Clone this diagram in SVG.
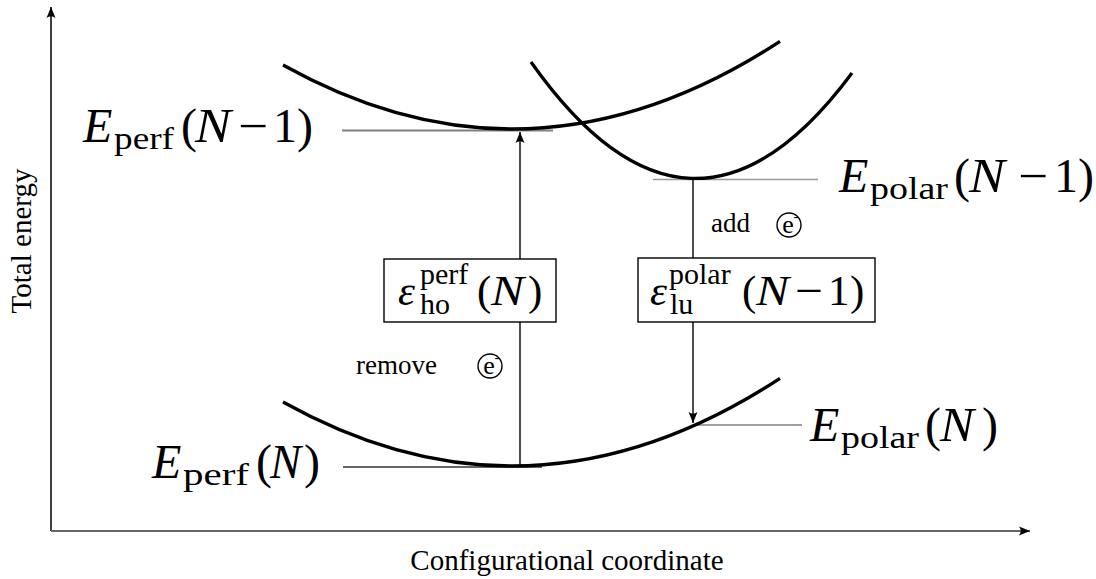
<svg xmlns="http://www.w3.org/2000/svg" width="1096" height="579" viewBox="0 0 1096 579">
<style>
text{font-family:'Liberation Serif','Times New Roman',Times,'DejaVu Serif',serif;fill:#000}
.m{font-size:48px}
.i{font-style:italic}
.s{font-size:32px}
.b{font-size:43px}
.bs{font-size:30px}
.t{font-size:27px}
.ax{font-size:29px}
.curve{fill:none;stroke:#000;stroke-width:3.3}
.conn{fill:none;stroke:#000;stroke-width:1.4}
.box{fill:#fff;stroke:#000;stroke-width:1.4}
.ec{fill:none;stroke:#000;stroke-width:1.4}
</style>
<defs>
<marker id="arr" viewBox="-12 -6 13 12" refX="0" refY="0" markerWidth="13" markerHeight="12" markerUnits="userSpaceOnUse" orient="auto">
<path d="M0,0 L-11,-4.5 Q-7.5,0 -11,4.5 Z" fill="#000"/>
</marker>
</defs>

<g id="axes">
<line x1="51" y1="531" x2="51" y2="7" stroke="#000" stroke-width="1.5" marker-end="url(#arr)"/>
<line x1="51" y1="531" x2="1030" y2="531" stroke="#666" stroke-width="2" marker-end="url(#arr)"/>
<text class="ax" transform="translate(31,241) rotate(-90)" text-anchor="middle">Total energy</text>
<text class="ax" x="567" y="570" text-anchor="middle">Configurational coordinate</text>
</g>

<g id="levels">
<line x1="342" y1="130.5" x2="553" y2="130.5" stroke="#808080" stroke-width="2"/>
<line x1="653" y1="179.5" x2="818" y2="179.5" stroke="#999" stroke-width="1.3"/>
<line x1="343" y1="467" x2="542" y2="467" stroke="#333" stroke-width="1.3"/>
<line x1="695" y1="425" x2="802" y2="425" stroke="#808080" stroke-width="1.5"/>
</g>

<g id="curves">
<path class="curve" d="M283,65 Q531.5,203.9 780,41.4"/>
<path class="curve" d="M531,62 Q691.5,289.3 852,73"/>
<path class="curve" d="M283,402 Q531.5,540.9 780,378.4"/>
</g>

<g id="connectors">
<line class="conn" x1="520" y1="466" x2="520" y2="132" marker-end="url(#arr)"/>
<line class="conn" x1="693" y1="180" x2="693" y2="423" marker-end="url(#arr)"/>
</g>

<g id="label-perf-n-1">
<text class="m"><tspan class="i" x="83" y="142">E</tspan><tspan class="s" x="114" y="149" textLength="60" lengthAdjust="spacingAndGlyphs">perf</tspan><tspan x="181" y="142">(</tspan><tspan class="i" x="195" y="142" textLength="36" lengthAdjust="spacingAndGlyphs">N</tspan><tspan x="238" y="142" textLength="30" lengthAdjust="spacingAndGlyphs">−</tspan><tspan x="273" y="142">1</tspan><tspan x="297" y="142">)</tspan></text>
</g>

<g id="label-polar-n-1">
<text class="m"><tspan class="i" x="839" y="192">E</tspan><tspan class="s" x="870" y="199" textLength="78" lengthAdjust="spacingAndGlyphs">polar</tspan><tspan x="954" y="192">(</tspan><tspan class="i" x="969" y="192" textLength="36" lengthAdjust="spacingAndGlyphs">N</tspan><tspan x="1018" y="192" textLength="30" lengthAdjust="spacingAndGlyphs">−</tspan><tspan x="1054" y="192">1</tspan><tspan x="1078" y="192">)</tspan></text>
</g>

<g id="label-perf-n">
<text class="m"><tspan class="i" x="152" y="478">E</tspan><tspan class="s" x="183" y="485" textLength="66" lengthAdjust="spacingAndGlyphs">perf</tspan><tspan x="256" y="478">(</tspan><tspan class="i" x="270" y="478" textLength="31" lengthAdjust="spacingAndGlyphs">N</tspan><tspan x="304" y="478">)</tspan></text>
</g>

<g id="label-polar-n">
<text class="m"><tspan class="i" x="810" y="441">E</tspan><tspan class="s" x="841" y="448" textLength="78" lengthAdjust="spacingAndGlyphs">polar</tspan><tspan x="925" y="441">(</tspan><tspan class="i" x="940" y="441" textLength="34" lengthAdjust="spacingAndGlyphs">N</tspan><tspan x="982" y="441">)</tspan></text>
</g>

<g id="box-ho">
<rect class="box" x="384" y="259" width="172" height="63"/>
<text class="b"><tspan class="i" x="398" y="305">ε</tspan><tspan class="bs" x="420" y="284">perf</tspan><tspan class="bs" x="420" y="314">ho</tspan><tspan x="477" y="305">(</tspan><tspan class="i" x="491" y="305" textLength="33" lengthAdjust="spacingAndGlyphs">N</tspan><tspan x="528" y="305">)</tspan></text>
</g>

<g id="box-lu">
<rect class="box" x="638" y="258" width="237" height="64"/>
<text class="b"><tspan class="i" x="650" y="305">ε</tspan><tspan class="bs" x="669" y="284">polar</tspan><tspan class="bs" x="670" y="314">lu</tspan><tspan x="742" y="305">(</tspan><tspan class="i" x="756" y="305" textLength="33" lengthAdjust="spacingAndGlyphs">N</tspan><tspan x="795" y="305" textLength="28" lengthAdjust="spacingAndGlyphs">−</tspan><tspan x="828" y="305">1</tspan><tspan x="850" y="305">)</tspan></text>
</g>

<g id="label-remove">
<text class="t" x="356" y="374">remove</text>
<circle class="ec" cx="490" cy="366" r="12"/>
<text class="t" x="489" y="374" text-anchor="middle" style="font-size:26px">e</text>
<text class="t" x="497" y="362" text-anchor="middle" style="font-size:15px">-</text>
</g>

<g id="label-add">
<text class="t" x="711" y="232">add</text>
<circle class="ec" cx="789" cy="225" r="12"/>
<text class="t" x="788" y="233" text-anchor="middle" style="font-size:26px">e</text>
<text class="t" x="796" y="221" text-anchor="middle" style="font-size:15px">-</text>
</g>
</svg>
